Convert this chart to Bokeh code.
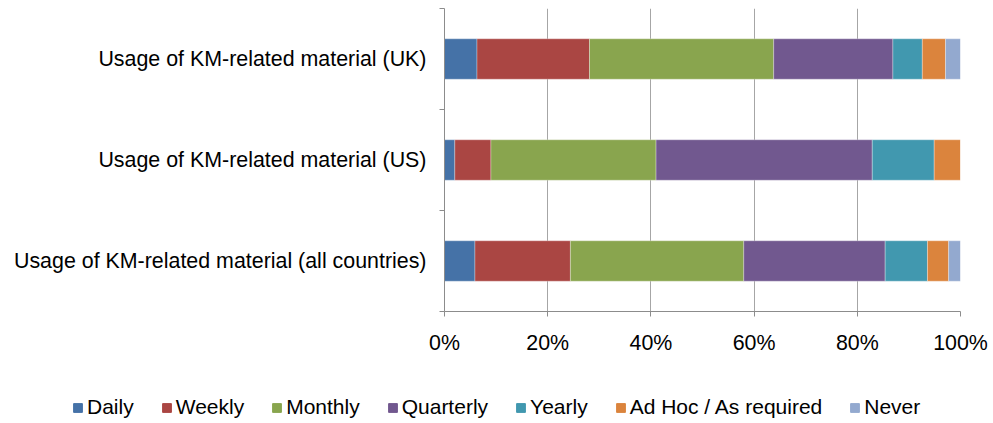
from bokeh.plotting import figure
from bokeh.layouts import column
from bokeh.models import (ColumnDataSource, Range1d, FixedTicker, LinearAxis,
                          Legend, LegendItem)
from bokeh.embed import file_html
from bokeh.resources import INLINE

# Share of respondents (%) per usage frequency
categories = ["Usage of KM-related material (UK)",
              "Usage of KM-related material (US)",
              "Usage of KM-related material (all countries)"]
series = ["Daily", "Weekly", "Monthly", "Quarterly", "Yearly",
          "Ad Hoc / As required", "Never"]
daily = [6.3, 2.0, 5.9]
weekly = [21.8, 7.0, 18.5]
monthly = [35.7, 32.0, 33.6]
quarterly = [23.1, 41.9, 27.4]
yearly = [5.7, 12.0, 8.2]
adhoc = [4.5, 5.1, 4.1]
never = [2.9, 0.0, 2.3]
x_ticks = [0, 20, 40, 60, 80, 100]
x_tick_labels = ["0%", "20%", "40%", "60%", "80%", "100%"]

colors = ["#4572A7", "#AA4643", "#89A54E", "#71588F", "#4198AF",
          "#DB843D", "#93A9CF"]
keys = ["daily", "weekly", "monthly", "quarterly", "yearly", "adhoc", "never"]

# rows are placed top to bottom: UK, US, all countries
ypos = [len(categories) - i - 0.5 for i in range(len(categories))]
source = ColumnDataSource(dict(y=ypos, daily=daily, weekly=weekly,
                               monthly=monthly, quarterly=quarterly,
                               yearly=yearly, adhoc=adhoc, never=never))

FONT = "Liberation Sans"
FONT_SIZE = "21.4px"
AXIS_COLOR = "#8C8C8C"
W, H_MAIN, H_LEG = 993, 370, 53

p = figure(width=W, height=H_MAIN, output_backend="svg", toolbar_location=None,
           x_range=Range1d(0, 100), y_range=Range1d(0, len(categories)),
           min_border_left=444, min_border_right=33, min_border_top=8,
           min_border_bottom=59, frame_align=False)
p.outline_line_color = None
p.background_fill_color = "white"
p.border_fill_color = "white"

p.hbar_stack(keys, y="y", height=0.4, color=colors, source=source,
             line_color="white", line_width=0.5, line_alpha=0.6)

# x axis with percentage ticks
p.xaxis.ticker = FixedTicker(ticks=x_ticks)
p.xaxis.major_label_overrides = {t: l for t, l in zip(x_ticks, x_tick_labels)}
p.xaxis.major_label_text_font = FONT
p.xaxis.major_label_text_font_size = FONT_SIZE
p.xaxis.major_label_text_color = "black"
p.xaxis.axis_line_color = AXIS_COLOR
p.xaxis.major_tick_line_color = AXIS_COLOR
p.xaxis.major_tick_out = 5
p.xaxis.major_tick_in = 0
p.xaxis.minor_tick_line_color = None
p.xaxis.major_label_standoff = 14

p.xgrid.ticker = FixedTicker(ticks=x_ticks)
p.xgrid.grid_line_color = "#A6A6A6"
p.xgrid.grid_line_width = 1
p.ygrid.grid_line_color = None

# inner y axis: line and ticks at row boundaries
bounds = list(range(len(categories) + 1))
p.yaxis.ticker = FixedTicker(ticks=bounds)
p.yaxis.major_label_overrides = {b: "" for b in bounds}
p.yaxis.major_label_text_font_size = "1px"
p.yaxis.major_label_standoff = 0
p.yaxis.axis_line_color = AXIS_COLOR
p.yaxis.major_tick_line_color = AXIS_COLOR
p.yaxis.major_tick_out = 5
p.yaxis.major_tick_in = 0
p.yaxis.minor_tick_line_color = None

# outer y axis: category names at row centres
cat_axis = LinearAxis(ticker=FixedTicker(ticks=ypos),
                      major_label_overrides={y: c for y, c in zip(ypos, categories)},
                      axis_line_color=None, major_tick_line_color=None,
                      minor_tick_line_color=None,
                      major_label_text_font=FONT,
                      major_label_text_font_size=FONT_SIZE,
                      major_label_text_color="black",
                      major_label_standoff=7)
p.add_layout(cat_axis, "left")

# legend strip underneath the chart; its series renderers stay hidden and
# only provide the colour swatches
leg = figure(width=W, height=H_LEG, output_backend="svg", toolbar_location=None,
             x_range=Range1d(0, 1), y_range=Range1d(0, 1),
             min_border=0, x_axis_type=None, y_axis_type=None,
             frame_align=False)
leg.outline_line_color = None
leg.grid.visible = False
swatches = leg.hbar_stack(keys, y="y", height=0.4, color=colors, source=source)
for r in swatches:
    r.visible = False

legend = Legend(items=[LegendItem(label=s, renderers=[r])
                       for s, r in zip(series, swatches)],
                orientation="horizontal", location=(72, 4),
                padding=0, margin=0, spacing=27,
                glyph_width=11, glyph_height=11, label_standoff=4,
                label_height=20,
                label_text_font=FONT, label_text_font_size="21px",
                label_text_color="black",
                inactive_fill_alpha=0,
                border_line_color=None, background_fill_alpha=0)
leg.add_layout(legend, "center")

open("out.html", "w").write(file_html(column(p, leg, spacing=0), INLINE))
